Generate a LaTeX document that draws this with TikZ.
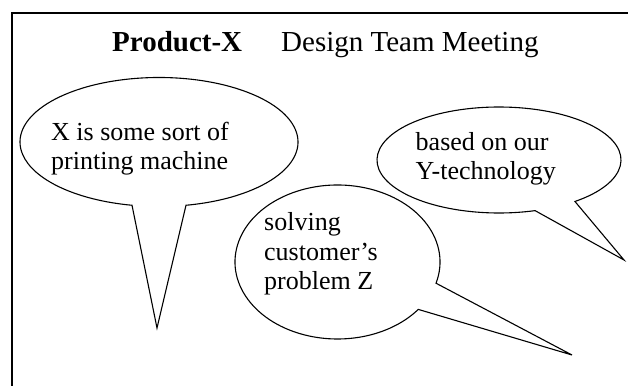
\documentclass[tikz,border=0pt]{standalone}
\usepackage{fontspec}
\setmainfont{Liberation Serif}
\begin{document}
\begin{tikzpicture}[x=1pt,y=1pt,
  frameline/.style={line width=1.4pt, line cap=rect},
  bubble/.style={draw=black, fill=white, line width=1.1pt, line join=miter},
  titletext/.style={font=\fontsize{29}{34}\selectfont, anchor=base west, inner sep=0pt},
  bubbletext/.style={font=\fontsize{26}{29}\selectfont, anchor=base west, inner sep=0pt}]
\useasboundingbox (0,0) rectangle (628,385);

% page frame: left and top rules only
\coordinate (frameBottom) at (12,-2);
\coordinate (frameRight) at (630,372);
\draw[frameline] (frameBottom) |- (frameRight);

% title line
\node[titletext] (product) at (112,333) {\bfseries Product-X};
\node[titletext] (meeting) at (281,333) {Design Team Meeting};

% speech bubble centres and tail tips
\coordinate (c1) at (159,243);
\coordinate (tip1) at (157,57);
\coordinate (c2) at (337.5,123);
\coordinate (tip2) at (572,30);
\coordinate (c3) at (499,225);
\coordinate (tip3) at (624,125);

% bubble 1
\draw[bubble] ([shift={(-78.8:139pt and 64.5pt)}]c1)
  arc[start angle=-78.8, end angle=258.8, x radius=139pt, y radius=64.5pt]
  -- (tip1) -- cycle;
% bubble 2
\draw[bubble] ([shift={(-16:102.5pt and 77pt)}]c2)
  arc[start angle=-16, end angle=322, x radius=102.5pt, y radius=77pt]
  -- (tip2) -- cycle;
% bubble 3
\draw[bubble] ([shift={(-51.5:122pt and 53pt)}]c3)
  arc[start angle=-51.5, end angle=287.2, x radius=122pt, y radius=53pt]
  -- (tip3) -- cycle;

% bubble texts
\node[bubbletext, font=\fontsize{26}{28.3}\selectfont] (say1) at (51,244)
  {\begin{tabular}[t]{@{}l@{}}X is some sort of\\printing machine\end{tabular}};
\node[bubbletext, font=\fontsize{26}{29.5}\selectfont] (say2) at (264,154)
  {\begin{tabular}[t]{@{}l@{}}solving\\customer’s\\problem Z\end{tabular}};
\node[bubbletext] (say3) at (415.5,234)
  {\begin{tabular}[t]{@{}l@{}}based on our\\Y-technology\end{tabular}};
\end{tikzpicture}
\end{document}
